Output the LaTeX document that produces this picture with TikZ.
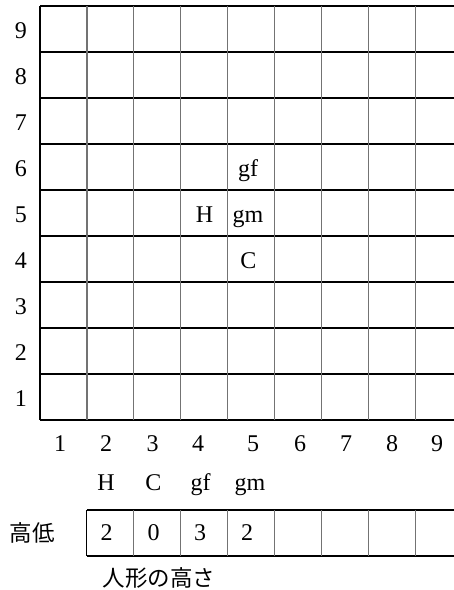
\documentclass[tikz,border=0pt]{standalone}
\usepackage{fontspec}
\setmainfont{Liberation Serif}
\newfontfamily\cjk{Noto Sans CJK JP}
\begin{document}
\begin{tikzpicture}[x=1pt,y=-1pt,
  hline/.style={black,line width=1.1pt},
  vline/.style={black!55,line width=1.3pt},
  lab/.style={anchor=base,inner sep=0pt,font=\fontsize{24}{27}\selectfont},
  jlab/.style={anchor=center,inner sep=0pt,font=\cjk\fontsize{22.5}{26}\selectfont}]
\useasboundingbox (0,0) rectangle (454,590);
% main grid
\foreach \j in {0,...,9} \draw[hline] (40,6+46*\j) -- (454,6+46*\j);
\draw[hline] (40,6) -- (40,420);
\foreach \i in {1,...,8} \draw[vline] (40+46.9*\i,6) -- (40+46.9*\i,420);
% row labels
\foreach \n in {1,...,9} \node[lab] (r\n) at (21,420-46*\n+46-13.5) {\n};
% column labels
\foreach \n/\x in {1/60,2/106,3/152.5,4/198,5/253,6/300,7/346,8/392,9/437}
  \node[lab] (c\n) at (\x,451.5) {\n};
% pieces in grid
\node[lab] (gf) at (248,176) {gf};
\node[lab] (H) at (204.5,222.5) {H};
\node[lab] (gm) at (248,222.5) {gm};
\node[lab] (C) at (248.5,268) {C};
% header row
\node[lab] (hH) at (106,490) {H};
\node[lab] (hC) at (153.5,490) {C};
\node[lab] (hgf) at (200.5,490) {gf};
\node[lab] (hgm) at (250,490) {gm};
% lower table
\draw[hline] (86.9,510) -- (454,510);
\draw[hline] (86.9,556) -- (454,556);
\draw[hline] (86.9,510) -- (86.9,556);
\foreach \i in {2,...,8} \draw[vline] (40+46.9*\i,510) -- (40+46.9*\i,556);
\node[lab] (v1) at (106.5,540) {2};
\node[lab] (v2) at (153.5,540) {0};
\node[lab] (v3) at (200,540) {3};
\node[lab] (v4) at (247,540) {2};
\node[jlab] (kotei) at (32,533) {高低};
\node[jlab] (takasa) at (159,578) {人形の高さ};
\end{tikzpicture}
\end{document}
